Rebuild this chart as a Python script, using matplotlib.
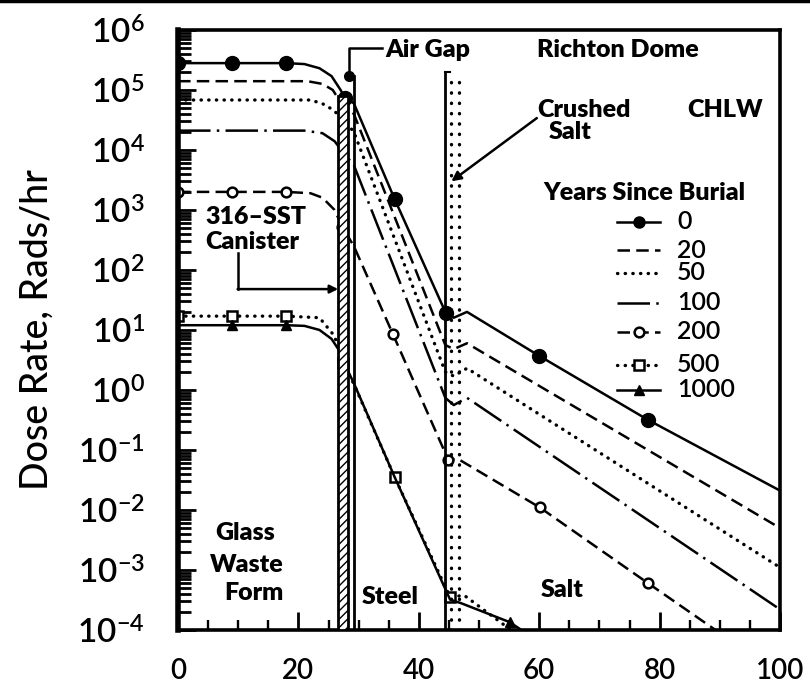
import matplotlib
matplotlib.use("Agg")
import matplotlib.pyplot as plt
from matplotlib.lines import Line2D
from matplotlib.patches import Rectangle
from matplotlib.ticker import LogLocator, MultipleLocator, NullFormatter

plt.rcParams['font.family'] = ['Lato', 'DejaVu Sans']
plt.rcParams['mathtext.fontset'] = 'custom'
plt.rcParams['mathtext.rm'] = 'Lato'

# distance from canister centre line (cm) and dose rate (rads/hr) for each age
x_0 = [0, 9, 18, 21, 23.5, 25.5, 27, 27.7, 29.2, 36, 44.5, 45.8, 48, 60, 78, 100]
dose_0 = [2.8e5, 2.8e5, 2.8e5, 2.7e5, 2.3e5, 1.7e5, 1.0e5, 7.4e4, 6.0e4, 1.5e3,
          19, 16, 20, 3.7, 0.32, 0.021]

x_20 = [0, 21.5, 24, 25.7, 27.5, 29.2, 44.4, 45.8, 48, 100]
dose_20 = [1.4e5, 1.4e5, 1.26e5, 1.0e5, 5.2e4, 4.0e4, 5.6, 4.8, 6.0, 5.0e-3]

x_50 = [0, 22, 24, 25.7, 27.5, 29.2, 44.4, 45.8, 48, 100]
dose_50 = [6.8e4, 6.8e4, 5.9e4, 4.7e4, 3.2e4, 2.0e4, 2.0, 1.7, 2.3, 1.1e-3]

x_100 = [0, 21, 24, 26, 27.5, 29.2, 44.4, 45.8, 48, 100]
dose_100 = [2.1e4, 2.1e4, 1.9e4, 1.4e4, 8.9e3, 5.6e3, 0.74, 0.56, 0.74, 2.2e-4]

x_200 = [0, 9, 18, 22, 24, 26, 27.3, 29.2, 35.7, 44.9, 46.5, 60.1, 78.1, 90]
dose_200 = [2.0e3, 2.0e3, 2.0e3, 1.9e3, 1.6e3, 1.0e3, 5.2e2, 2.5e2, 8.5, 0.068,
            0.071, 0.011, 6.0e-4, 8.9e-5]

x_500 = [0, 9, 18, 23.5, 26, 27.4, 29.2, 36, 45.2, 47.5, 58]
dose_500 = [17, 17, 17, 16, 7.9, 2.8, 1.26, 0.035, 3.5e-4, 3.8e-4, 6.3e-5]

x_1000 = [0, 9, 18, 21, 23.5, 25.5, 26.8, 27.6, 29.2, 36, 45.2, 47, 55.1, 60]
dose_1000 = [12, 12, 12, 11.7, 10, 7.1, 4.5, 2.8, 1.3, 0.035, 3.2e-4, 2.8e-4,
             1.35e-4, 6.3e-5]

years = ['0', '20', '50', '100', '200', '500', '1000']

# layer boundaries (cm)
canister = (26.6, 28.3)
air_gap_x = 29.3
salt_x = 44.4

fig = plt.figure(figsize=(8.1, 6.87), dpi=100)
ax = fig.add_axes([0.2198, 0.083, 0.7432, 0.8734])

lw = 1.8
styles = [
    dict(ls='-', marker='o', ms=10, mfc='black', markevery=[0, 1, 2, 7, 9, 10, 13, 14]),
    dict(ls=(0, (5, 2.5))),
    dict(ls=(0, (0.1, 2.2)), dash_capstyle='round', lw=2.4),
    dict(ls=(0, (13, 2.5, 1, 2.5))),
    dict(ls=(0, (5, 2.5)), marker='o', ms=7, mfc='white', mew=1.8,
         markevery=[0, 1, 2, 6, 8, 9, 11, 12]),
    dict(ls=(0, (0.1, 2.2)), dash_capstyle='round', lw=2.4, marker='s', ms=7,
         mfc='white', mew=1.8, markevery=[0, 1, 2, 5, 7, 8]),
    dict(ls='-', marker='^', ms=7, mfc='black', markevery=[1, 2, 12]),
]
series = [(x_0, dose_0), (x_20, dose_20), (x_50, dose_50), (x_100, dose_100),
          (x_200, dose_200), (x_500, dose_500), (x_1000, dose_1000)]

for (xs, ds), st in zip(series, styles):
    kw = dict(color='black', lw=lw)
    kw.update(st)
    ax.plot(xs, ds, **kw)

ax.set_yscale('log')
ax.set_xlim(0, 100)
ax.set_ylim(1e-4, 1e6)

# canister wall, air gap and crushed salt layers
ax.add_patch(Rectangle((canister[0], 1e-4), canister[1] - canister[0], 8e4 - 1e-4,
                       facecolor='white', edgecolor='black', lw=2, hatch='////', zorder=3))
ax.plot([air_gap_x, air_gap_x], [1e-4, 1.7e5], color='black', lw=2, zorder=3)
ax.plot([salt_x, salt_x], [1e-4, 2e5], color='black', lw=2, zorder=3)
ax.plot([salt_x, salt_x + 0.8], [2e5, 2e5], color='black', lw=1.5, zorder=3)
for xd in (45.4, 46.6):
    ax.plot([xd, xd], [1e-4, 1.6e5], color='black', lw=2.4, ls=(0, (0.1, 3.0)),
            dash_capstyle='round', zorder=3)

# axes styling
for sp in ax.spines.values():
    sp.set_linewidth(2.6)
ax.spines['left'].set_linewidth(4)
ax.yaxis.set_major_locator(LogLocator(base=10, numticks=20))
ax.yaxis.set_minor_locator(LogLocator(base=10, subs=range(2, 10), numticks=20))
ax.yaxis.set_minor_formatter(NullFormatter())
ax.set_yticks([10.0 ** k for k in range(-4, 7)])
ax.set_yticklabels([r'$\mathregular{10^{%d}}$' % k for k in range(-4, 7)],
                   fontsize=24, fontweight='semibold')
ax.xaxis.set_major_locator(MultipleLocator(20))
ax.xaxis.set_minor_locator(MultipleLocator(5))
ax.tick_params(axis='both', which='major', direction='in', length=13, width=2,
               right=False, top=False)
ax.tick_params(axis='both', which='minor', direction='in', length=7, width=1.7,
               right=False, top=False)
ax.tick_params(axis='y', which='minor', length=9, width=2)
ax.tick_params(axis='y', which='major', pad=24)
ax.tick_params(axis='x', which='major', pad=20, labelsize=20)
for lab in ax.get_xticklabels():
    lab.set_fontweight('semibold')

ax.set_ylabel('Dose Rate, Rads/hr', fontsize=27, fontweight='medium')
ax.yaxis.set_label_coords(-0.205, 0.5)

# labels and leaders
bold = dict(fontsize=18, fontweight='heavy', transform=ax.transAxes)
ax.text(0.344, 0.967, 'Air Gap', va='center', ha='left', **bold)
ax.plot([28.4, 28.4, 33.9], [1.7e5, 5e5, 5e5], color='black', lw=1.8, zorder=3)
ax.plot([28.4], [1.7e5], 'o', color='black', ms=7, zorder=4)

ax.text(0.596, 0.967, 'Richton Dome', va='center', ha='left', **bold)
ax.text(0.596, 0.867, 'Crushed', va='center', ha='left', **bold)
ax.text(0.615, 0.83, 'Salt', va='center', ha='left', **bold)
ax.text(0.846, 0.867, 'CHLW', va='center', ha='left', **bold)
ax.annotate('', xy=(45.4, 3.0e3), xytext=(59.6, 3.4e4),
            arrowprops=dict(arrowstyle='-|>', color='black', lw=1.8,
                            mutation_scale=14, shrinkA=0, shrinkB=0))

ax.text(0.045, 0.688, '316–SST', va='center', ha='left', **bold)
ax.text(0.045, 0.647, 'Canister', va='center', ha='left', **bold)
ax.plot([9.9, 9.9], [1.9e2, 48], color='black', lw=1.8)
ax.annotate('', xy=(canister[0], 48), xytext=(9.9, 48),
            arrowprops=dict(arrowstyle='-|>', color='black', lw=1.8,
                            mutation_scale=12, shrinkA=0, shrinkB=0))

ax.text(0.111, 0.162, 'Glass', va='center', ha='center', **bold)
ax.text(0.114, 0.108, 'Waste', va='center', ha='center', **bold)
ax.text(0.126, 0.062, 'Form', va='center', ha='center', **bold)
ax.text(0.352, 0.055, 'Steel', va='center', ha='center', **bold)
ax.text(0.638, 0.067, 'Salt', va='center', ha='center', **bold)

# legend drawn by hand
ax.text(0.606, 0.728, 'Years Since Burial', va='center', ha='left', **bold)
leg_y = [0.68, 0.633, 0.595, 0.545, 0.497, 0.442, 0.40]
for yr, st, yy in zip(years, styles, leg_y):
    kw = dict(color='black', lw=lw)
    kw.update({k: v for k, v in st.items() if k != 'markevery'})
    if 'marker' in kw:
        kw['markevery'] = [1]
        if kw['marker'] == 'o' and kw.get('mfc') == 'black':
            kw['ms'] = 8
    ax.add_line(Line2D([0.729, 0.765, 0.801], [yy, yy, yy], transform=ax.transAxes, **kw))
    ax.text(0.829, yy, yr, va='center', ha='left', fontsize=18, fontweight='semibold',
            transform=ax.transAxes)

# dark edge along the top of the sheet
fig.add_artist(Line2D([0, 1], [0.998, 0.998], transform=fig.transFigure,
                      color='black', lw=2.5))

fig.savefig('out.png', dpi=100)
